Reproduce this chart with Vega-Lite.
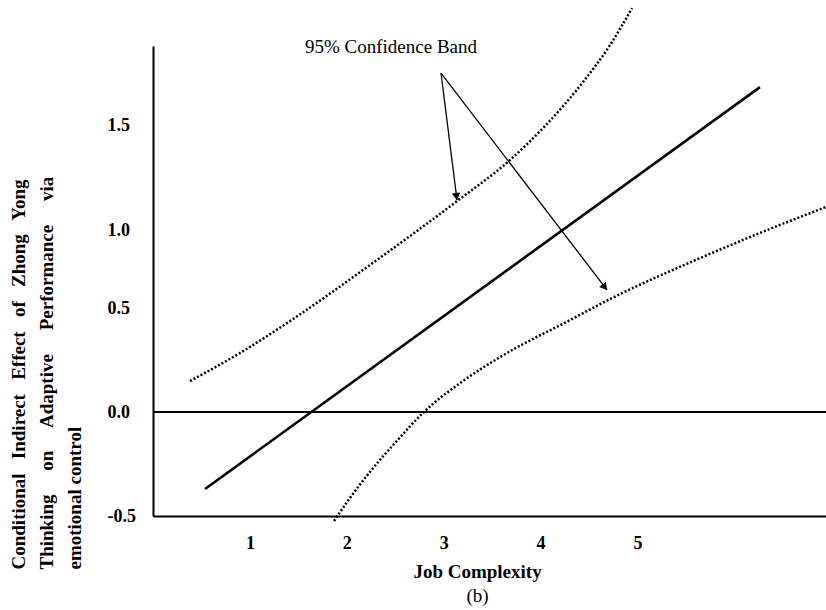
{
  "$schema": "https://vega.github.io/schema/vega-lite/v6.json",
  "width": 673,
  "height": 470,
  "autosize": {"type": "none"},
  "padding": {"left": 153, "top": 46, "right": 0, "bottom": 94},
  "background": "white",
  "config": {"view": {"stroke": null}, "font": "Liberation Serif"},
  "title": {"text": "(b)", "orient": "bottom", "anchor": "middle", "dx": -12, "offset": 6, "font": "Liberation Serif", "fontSize": 19, "fontWeight": "normal", "color": "black"},
  "datasets": {
    "zero": [{"x": 0, "y": 0}, {"x": 6.945, "y": 0}],
    "effect": [{"x": 0.537, "y": -0.37}, {"x": 6.264, "y": 1.5625}],
    "band": [
      {"bound": "upper", "x": 0.382, "y": 0.149},
      {"bound": "upper", "x": 0.898, "y": 0.284},
      {"bound": "upper", "x": 1.445, "y": 0.447},
      {"bound": "upper", "x": 2.239, "y": 0.707},
      {"bound": "upper", "x": 3.137, "y": 1.014},
      {"bound": "upper", "x": 3.684, "y": 1.212},
      {"bound": "upper", "x": 4.045, "y": 1.375},
      {"bound": "upper", "x": 4.438, "y": 1.587},
      {"bound": "upper", "x": 4.716, "y": 1.764},
      {"bound": "upper", "x": 4.943, "y": 1.942},
      {"bound": "lower", "x": 1.868, "y": -0.524},
      {"bound": "lower", "x": 2.033, "y": -0.413},
      {"bound": "lower", "x": 2.239, "y": -0.288},
      {"bound": "lower", "x": 2.497, "y": -0.149},
      {"bound": "lower", "x": 2.807, "y": 0.005},
      {"bound": "lower", "x": 3.168, "y": 0.139},
      {"bound": "lower", "x": 3.581, "y": 0.264},
      {"bound": "lower", "x": 4.303, "y": 0.442},
      {"bound": "lower", "x": 4.716, "y": 0.543},
      {"bound": "lower", "x": 5.645, "y": 0.74},
      {"bound": "lower", "x": 6.264, "y": 0.861},
      {"bound": "lower", "x": 6.945, "y": 0.986}
    ],
    "arrows": [
      {"arrow": "upper", "x": 2.972, "y": 1.63, "x2": 3.137, "y2": 1.019},
      {"arrow": "lower", "x": 2.972, "y": 1.63, "x2": 4.685, "y2": 0.587}
    ],
    "heads": [
      {"arrow": "upper", "x": 3.132, "y": 1.036},
      {"arrow": "lower", "x": 4.662, "y": 0.6}
    ],
    "note": [{"x": 2.456, "y": 1.755, "label": "95% Confidence Band"}]
  },
  "encoding": {
    "x": {
      "field": "x", "type": "quantitative",
      "scale": {"domain": [0, 6.945], "nice": false, "zero": false},
      "axis": {
        "values": [1, 2, 3, 4, 5], "format": "d", "ticks": false, "grid": false,
        "domainColor": "black", "domainWidth": 2,
        "labelFont": "Liberation Serif", "labelFontSize": 18, "labelFontWeight": "bold", "labelColor": "black",
        "labelPadding": 18, "labelFlush": false,
        "title": "Job Complexity", "titleFont": "Liberation Serif", "titleFontSize": 19, "titleFontWeight": "bold", "titleColor": "black",
        "titleX": 324, "titleY": 61, "titleBaseline": "alphabetic", "titleAnchor": null
      }
    },
    "y": {
      "field": "y", "type": "quantitative",
      "scale": {"domain": [-0.5, 1.76], "nice": false, "zero": false},
      "axis": {
        "values": [-0.5, 0, 0.5, 0.875, 1.38],
        "labelExpr": "datum.value > 1.2 ? '1.5' : datum.value > 0.8 ? '1.0' : datum.value > 0.3 ? '0.5' : datum.value > -0.2 ? '0.0' : '-0.5'",
        "ticks": false, "grid": false,
        "domainColor": "black", "domainWidth": 2,
        "labelFont": "Liberation Serif", "labelFontSize": 18, "labelFontWeight": "bold", "labelColor": "black",
        "labelAlign": "left", "labelBaseline": "middle", "labelPadding": 46, "labelFlush": false, "labelOverlap": false,
        "title": ["Conditional\u00a0\u00a0 Indirect\u00a0\u00a0 Effect\u00a0\u00a0 of\u00a0\u00a0 Zhong\u00a0\u00a0 Yong", "Thinking\u00a0\u00a0\u00a0\u00a0 on\u00a0\u00a0\u00a0\u00a0 Adaptive\u00a0\u00a0\u00a0\u00a0 Performance\u00a0\u00a0\u00a0\u00a0 via", "emotional control"],
        "titleFont": "Liberation Serif", "titleFontSize": 19, "titleFontWeight": "bold", "titleColor": "black",
        "titleAngle": 270, "titleAlign": "left", "titleBaseline": "top", "titleLineHeight": 28,
        "titleX": -144, "titleY": 523, "titleAnchor": null
      }
    }
  },
  "layer": [
    {"data": {"name": "zero"}, "mark": {"type": "line", "color": "black", "strokeWidth": 2}},
    {"data": {"name": "effect"}, "mark": {"type": "line", "color": "black", "strokeWidth": 2.6}},
    {"data": {"name": "band"}, "mark": {"type": "line", "color": "black", "strokeWidth": 2.5, "strokeDash": [2, 2], "interpolate": "monotone"}, "encoding": {"detail": {"field": "bound"}}},
    {"data": {"name": "arrows"}, "mark": {"type": "rule", "color": "black", "strokeWidth": 1.3}, "encoding": {"x2": {"field": "x2"}, "y2": {"field": "y2"}}},
    {"data": {"name": "heads"}, "transform": [{"filter": "datum.arrow === 'upper'"}], "mark": {"type": "point", "shape": "triangle-up", "filled": true, "color": "black", "size": 70, "angle": 172.8, "opacity": 1}},
    {"data": {"name": "heads"}, "transform": [{"filter": "datum.arrow === 'lower'"}], "mark": {"type": "point", "shape": "triangle-up", "filled": true, "color": "black", "size": 70, "angle": 142.6, "opacity": 1}},
    {"data": {"name": "note"}, "mark": {"type": "text", "font": "Liberation Serif", "fontSize": 19, "color": "black", "align": "center", "baseline": "middle"}, "encoding": {"text": {"field": "label"}}}
  ]
}
